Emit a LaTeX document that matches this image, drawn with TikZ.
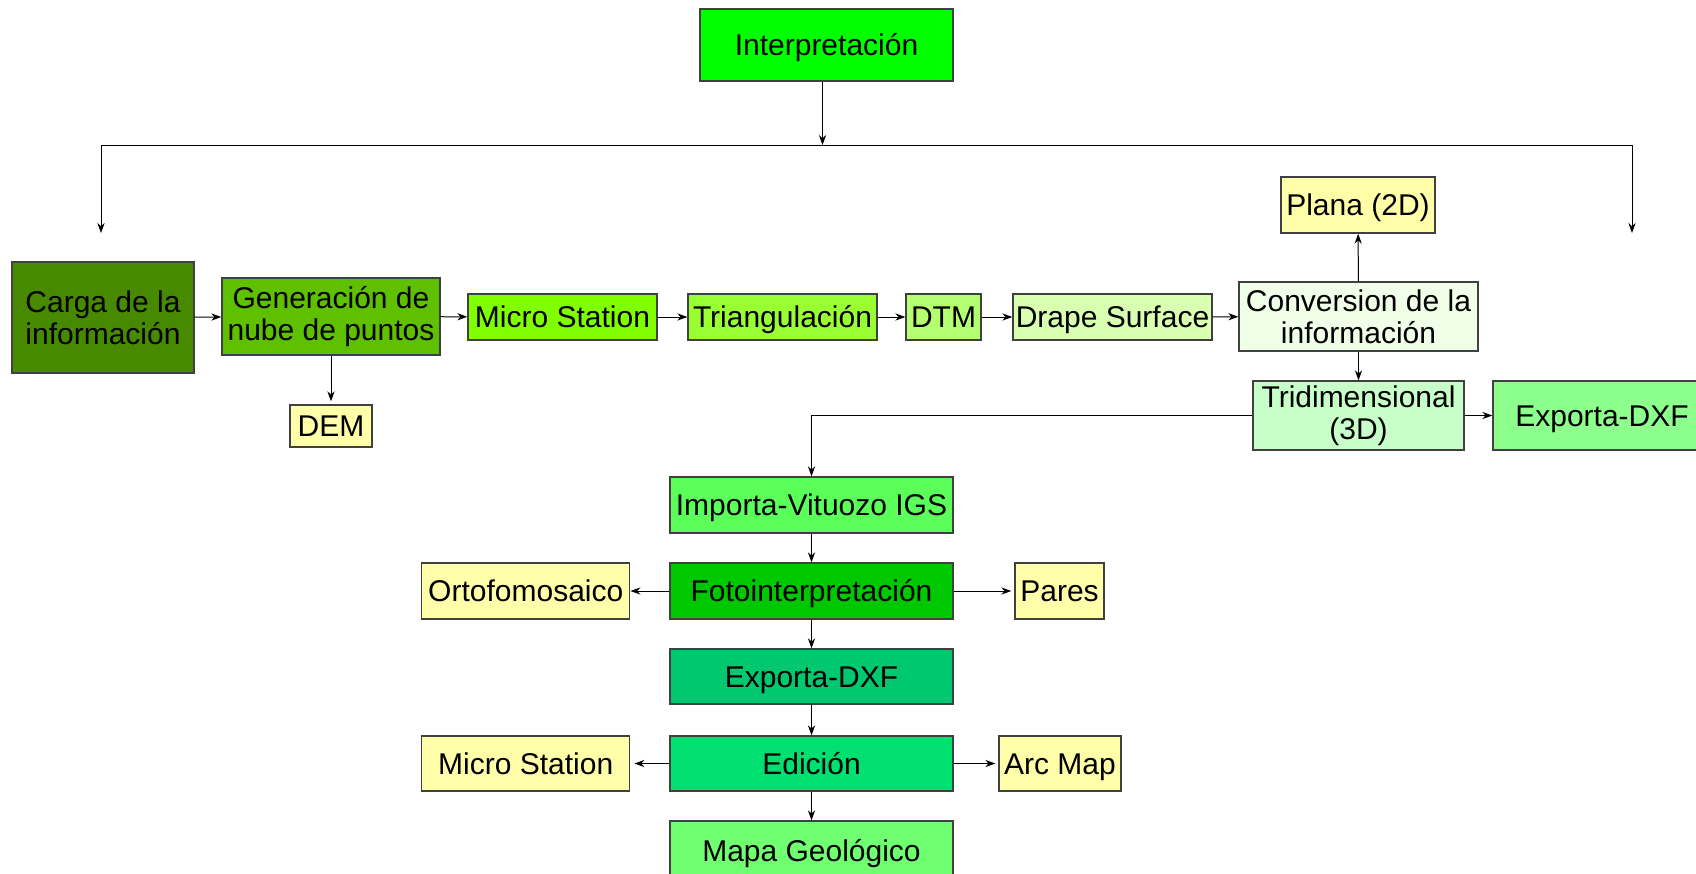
\documentclass[tikz,border=0pt]{standalone}
\usepackage{fontspec}
\setmainfont{Liberation Sans}
\usetikzlibrary{positioning,arrows.meta}
\definecolor{cInterp}{RGB}{0,255,0}
\definecolor{cCarga}{RGB}{71,138,0}
\definecolor{cGen}{RGB}{95,192,0}
\definecolor{cMicro}{RGB}{128,255,0}
\definecolor{cTri}{RGB}{153,255,51}
\definecolor{cDtm}{RGB}{179,255,112}
\definecolor{cDrape}{RGB}{217,255,176}
\definecolor{cConv}{RGB}{240,255,232}
\definecolor{cAmar}{RGB}{255,255,170}
\definecolor{cTridim}{RGB}{200,255,200}
\definecolor{cExpA}{RGB}{140,255,140}
\definecolor{cImp}{RGB}{90,255,90}
\definecolor{cFoto}{RGB}{0,200,0}
\definecolor{cExpB}{RGB}{0,200,110}
\definecolor{cEdic}{RGB}{0,224,112}
\definecolor{cMapa}{RGB}{112,255,112}
\tikzset{
  caja/.style={draw=black!75,line width=0.7pt,inner sep=1pt,align=center,
    font=\fontsize{15}{16}\selectfont},
  una/.style={caja,text height=10.7pt,text depth=0pt},
  tam/.style 2 args={minimum width=#1*0.5pt,minimum height=#2*0.5pt},
  flecha/.style={-{Stealth[length=5pt,width=3.6pt]},line width=0.5pt},
}
\begin{document}
\begin{tikzpicture}[x=0.5pt,y=-0.5pt]
\useasboundingbox (0,0) rectangle (1696,873);
\clip (0,0) rectangle (1696,873);
% cabecera
\node[una,fill=cInterp,tam={253}{72}] (interp) at (826.5,45) {Interpretación};
\coordinate (barraI) at (101,145);
\coordinate (barraD) at (1632,145);
\coordinate (caidaI) at (101,233);
\coordinate (caidaD) at (1632,233);
% fila principal
\node[caja,fill=cCarga,tam={182}{111}] (carga) at (103,317.5) {Carga de la\\información};
\node[caja,fill=cGen,tam={218}{77}] (gen) at (331,316.5) {Generación de\\nube de puntos};
\node[una,fill=cMicro,tam={189}{46}] (micro1) at (562.5,317) {Micro Station};
\node[una,fill=cTri,tam={189}{46}] (tri) at (782.5,317) {Triangulación};
\node[una,fill=cDtm,tam={75}{46}] (dtm) at (943.5,317) {DTM};
\node[una,fill=cDrape,tam={199}{46}] (drape) at (1112.5,317) {Drape Surface};
\node[caja,fill=cConv,tam={239}{69}] (conv) at (1358.5,316.5) {Conversion de la\\información};
\node[una,fill=cAmar,tam={154}{56}] (plana) at (1358,205) {Plana (2D)};
\node[caja,fill=cTridim,tam={211}{69}] (tridim) at (1358.5,415.5) {Tridimensional\\(3D)};
\node[una,fill=cExpA,tam={218}{69}] (expA) at (1602,415.5) {Exporta-DXF};
\node[una,fill=cAmar,tam={82}{42}] (dem) at (331,426) {DEM};
% columna central
\node[una,fill=cImp,tam={283}{56}] (importa) at (811.5,505) {Importa-Vituozo IGS};
\node[una,fill=cFoto,tam={283}{56}] (foto) at (811.5,591) {Fotointerpretación};
\node[una,fill=cAmar,tam={208}{56}] (orto) at (525.75,591) {Ortofomosaico};
\node[una,fill=cAmar,tam={89}{56}] (pares) at (1059.5,591) {Pares};
\node[una,fill=cExpB,tam={283}{55}] (expB) at (811.5,676.5) {Exporta-DXF};
\node[una,fill=cEdic,tam={283}{55}] (edic) at (811.5,763.5) {Edición};
\node[una,fill=cAmar,tam={208}{55}] (micro2) at (525.75,763.5) {Micro Station};
\node[una,fill=cAmar,tam={122}{55}] (arcmap) at (1060,763.5) {Arc Map};
\node[una,fill=cMapa,tam={283}{60}] (mapa) at (811.5,851) {Mapa Geológico};
% conectores
\draw[flecha] ([xshift=-2pt]interp.south) -- ([xshift=-2pt]interp.south |- barraI);
\draw[line width=0.5pt] (barraI) -- (barraD);
\draw[flecha] (barraI) -- (caidaI);
\draw[flecha] (barraD) -- (caidaD);
\draw[flecha] (carga) -- (gen);
\draw[flecha] (gen) -- (micro1);
\draw[flecha] (micro1) -- (tri);
\draw[flecha] (tri) -- (dtm);
\draw[flecha] (dtm) -- (drape);
\draw[flecha] (drape) -- (conv);
\draw[flecha,shorten >=1.5pt] (gen) -- (dem);
\draw[flecha] (conv) -- (plana);
\draw[flecha] (conv) -- (tridim);
\draw[flecha] (tridim) -- (expA);
\draw[flecha] (tridim.west) -| (importa.north);
\draw[flecha] (importa) -- (foto);
\draw[flecha] (foto) -- (orto);
\draw[flecha,shorten >=1.5pt] (foto) -- (pares);
\draw[flecha] (foto) -- (expB);
\draw[flecha] (expB) -- (edic);
\draw[flecha,shorten >=2pt] (edic) -- (micro2);
\draw[flecha,shorten >=1.5pt] (edic) -- (arcmap);
\draw[flecha] (edic) -- (mapa);
\end{tikzpicture}
\end{document}
